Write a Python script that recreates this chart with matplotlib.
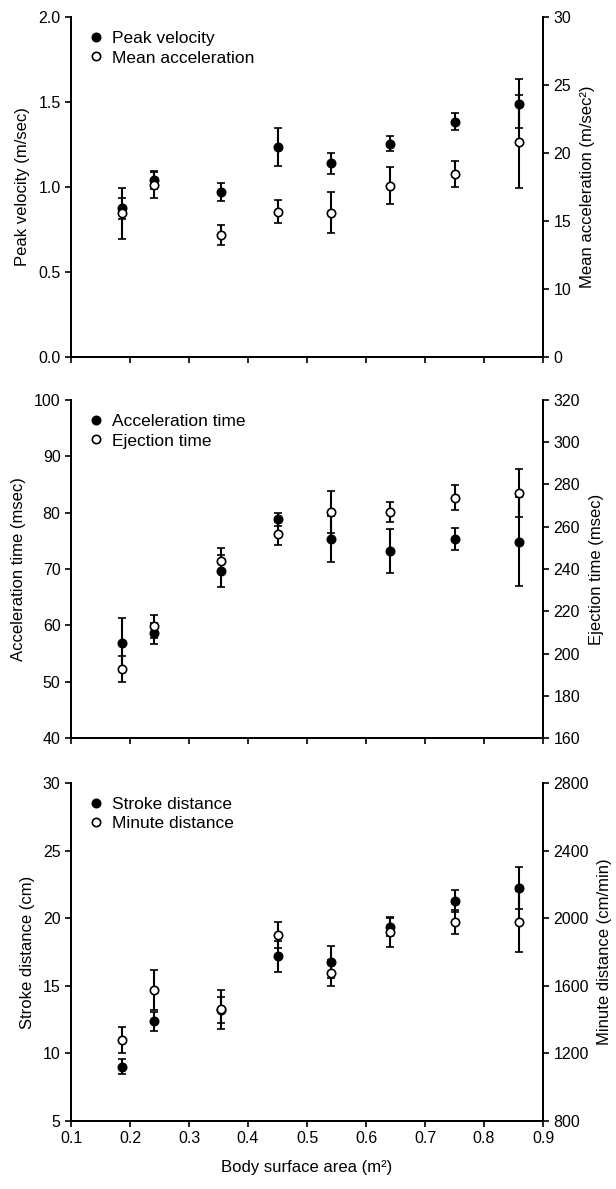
import matplotlib
matplotlib.use('Agg')
import matplotlib.pyplot as plt

plt.rcParams['font.family'] = ['Liberation Sans', 'DejaVu Sans']
plt.rcParams['font.size'] = 12
plt.rcParams['xtick.labelsize'] = 11.5
plt.rcParams['ytick.labelsize'] = 11.5

### data #####
bsa = [0.186, 0.24, 0.354, 0.451, 0.541, 0.64, 0.751, 0.86]

peak_vel = [0.874, 1.041, 0.972, 1.236, 1.141, 1.255, 1.385, 1.491]
peak_vel_err = [0.063, 0.053, 0.053, 0.113, 0.062, 0.045, 0.05, 0.145]
mean_acc = [15.56, 17.65, 13.96, 15.68, 15.61, 17.60, 18.48, 20.84]
mean_acc_err = [1.85, 0.98, 0.73, 0.85, 1.5, 1.35, 0.95, 3.4]

acc_time = [56.8, 58.6, 69.7, 78.8, 75.4, 73.2, 75.3, 74.8]
acc_time_err = [4.5, 1.9, 2.84, 1.18, 4.08, 3.96, 1.95, 7.9]
ej_time = [192.8, 212.8, 244.0, 256.8, 266.9, 267.0, 273.8, 276.0]
ej_time_err = [6.2, 5.3, 6.1, 5.6, 9.9, 4.8, 5.76, 11.5]

stroke = [9.02, 12.38, 13.22, 17.17, 16.75, 19.34, 21.29, 22.23]
stroke_err = [0.57, 0.69, 0.96, 1.16, 1.16, 0.69, 0.81, 1.53]
minute = [1280, 1576, 1461, 1898, 1675, 1918, 1979, 1979]
minute_err = [79, 118, 114, 77, 75, 91, 71, 182]

# right axis of the top panel is labelled oddly (bottom tick reads 0)
acc_ticks = [5, 10, 15, 20, 25, 30]
acc_labels = ['0', '10', '15', '20', '25', '30']

x_ticks = [0.1, 0.2, 0.3, 0.4, 0.5, 0.6, 0.7, 0.8, 0.9]

panels = [
    dict(yl=peak_vel, yle=peak_vel_err, yr=mean_acc, yre=mean_acc_err,
         lim_l=(0, 2), ticks_l=[0, 0.5, 1.0, 1.5, 2.0], fmt_l='%.1f',
         lim_r=(5, 30), ticks_r=acc_ticks, labels_r=acc_labels,
         lab_l='Peak velocity (m/sec)', lab_r='Mean acceleration (m/sec²)',
         names=('Peak velocity', 'Mean acceleration'),
         rect=[0.1153, 0.6997, 0.7662, 0.286]),
    dict(yl=acc_time, yle=acc_time_err, yr=ej_time, yre=ej_time_err,
         lim_l=(40, 100), ticks_l=[40, 50, 60, 70, 80, 90, 100], fmt_l='%d',
         lim_r=(160, 320), ticks_r=list(range(160, 321, 20)), labels_r=None,
         lab_l='Acceleration time (msec)', lab_r='Ejection time (msec)',
         names=('Acceleration time', 'Ejection time'),
         rect=[0.1153, 0.3793, 0.7662, 0.2843]),
    dict(yl=stroke, yle=stroke_err, yr=minute, yre=minute_err,
         lim_l=(5, 30), ticks_l=[5, 10, 15, 20, 25, 30], fmt_l='%d',
         lim_r=(800, 2800), ticks_r=[800, 1200, 1600, 2000, 2400, 2800], labels_r=None,
         lab_l='Stroke distance (cm)', lab_r='Minute distance (cm/min)',
         names=('Stroke distance', 'Minute distance'),
         rect=[0.1153, 0.0572, 0.7662, 0.2843]),
]

fig = plt.figure(figsize=(6.16, 11.89), dpi=100)

eb_kw = dict(fmt='o', color='black', ecolor='black', elinewidth=1.5,
             capsize=3, capthick=1.5, markersize=6, markeredgewidth=1.2)

for i, p in enumerate(panels):
    ax = fig.add_axes(p['rect'])
    ax2 = ax.twinx()

    e1 = ax.errorbar(bsa, p['yl'], yerr=p['yle'], markerfacecolor='black', zorder=3, **eb_kw)
    e2 = ax2.errorbar(bsa, p['yr'], yerr=p['yre'], markerfacecolor='white', zorder=3, **eb_kw)

    ax.set_xlim(0.1, 0.9)
    ax.set_xticks(x_ticks)
    ax.set_ylim(*p['lim_l'])
    ax.set_yticks(p['ticks_l'])
    ax.set_yticklabels([p['fmt_l'] % t for t in p['ticks_l']])
    ax2.set_ylim(*p['lim_r'])
    ax2.set_yticks(p['ticks_r'])
    if p['labels_r'] is not None:
        ax2.set_yticklabels(p['labels_r'])

    ax.set_ylabel(p['lab_l'], labelpad=6)
    ax2.set_ylabel(p['lab_r'], labelpad=6)

    for a in (ax, ax2):
        a.spines['top'].set_visible(False)
        for s in ('left', 'right', 'bottom'):
            a.spines[s].set_linewidth(1.4)
        a.tick_params(direction='out', length=4, width=1.2)

    if i < 2:
        ax.set_xticklabels([])
    else:
        ax.set_xticklabels(['%.1f' % t for t in x_ticks])
        ax.set_xlabel('Body surface area (m²)', labelpad=10)

    ax2.legend([e1[0], e2[0]], list(p['names']), loc='upper left', frameon=False,
               fontsize=12.5, handlelength=0.8, handletextpad=0.5, borderaxespad=0.4,
               labelspacing=0.25, bbox_to_anchor=(0.009, 1.0))

fig.savefig('out.png', dpi=100)
plt.close()
